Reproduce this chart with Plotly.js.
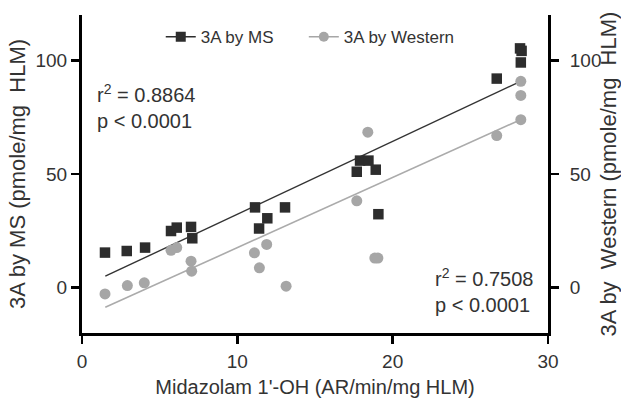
<!DOCTYPE html>
<html>
<head>
<meta charset="utf-8">
<script src="https://cdn.plot.ly/plotly-3.0.1.min.js"></script>
<style>html,body{margin:0;padding:0;background:#fff;}#chart{width:621px;height:398px;}</style>
</head>
<body>
<div id="chart"></div>
<script>
// Midazolam 1'-OH activity (AR/min/mg HLM)
var msX = [1.48, 2.88, 4.06, 5.73, 6.1, 7.02, 7.1, 11.14, 11.4, 11.93, 13.07, 17.69, 17.9, 18.44, 18.91, 19.08, 26.7, 28.2, 28.3, 28.25];
// CYP3A by MS (pmole/mg HLM)
var msY = [15.4, 16.1, 17.6, 24.9, 26.4, 26.7, 21.7, 35.3, 26.0, 30.5, 35.3, 51.0, 55.9, 55.9, 51.9, 32.3, 92.0, 105.3, 104.2, 99.1];

var wbX = [1.48, 2.92, 4.01, 5.73, 6.1, 7.02, 7.06, 11.1, 11.42, 11.89, 13.14, 17.69, 18.4, 18.85, 19.05, 26.7, 28.25, 28.25, 28.25];
// CYP3A by Western (pmole/mg HLM)
var wbY = [-2.8, 0.9, 2.1, 16.4, 17.6, 11.6, 7.2, 15.3, 8.7, 19.0, 0.6, 38.2, 68.4, 13.0, 13.0, 66.9, 90.8, 84.6, 73.9];

// Linear regression lines (end points)
var fitX = [1.5, 28.2];
var msFitY = [5.0, 90.7];
var wbFitY = [-8.7, 73.8];

var seriesNames = ['3A by MS', '3A by Western'];
var statsMS = ['r<sup>2</sup> = 0.8864', 'p &lt; 0.0001'];
var statsWB = ['r<sup>2</sup> = 0.7508', 'p &lt; 0.0001'];

var xTicks = [0, 10, 20, 30];
var yTicks = [0, 50, 100];

var cMS = '#2d2d2d';
var cWB = '#a6a6a6';

var traces = [
  {x: fitX, y: msFitY, mode: 'lines', line: {color: '#333333', width: 1.4}, showlegend: false, hoverinfo: 'skip'},
  {x: fitX, y: wbFitY, mode: 'lines', line: {color: '#ababab', width: 1.6}, showlegend: false, hoverinfo: 'skip', yaxis: 'y2'},
  {x: wbX, y: wbY, mode: 'markers', marker: {symbol: 'circle', size: 11, color: cWB}, showlegend: false, yaxis: 'y2', name: seriesNames[1]},
  {x: msX, y: msY, mode: 'markers', marker: {symbol: 'square', size: 10.5, color: cMS}, showlegend: false, name: seriesNames[0]},
  {x: [null], y: [null], mode: 'lines+markers', name: seriesNames[0], legend: 'legend',
   marker: {symbol: 'square', size: 10, color: cMS}, line: {color: cMS, width: 1.5}},
  {x: [null], y: [null], mode: 'lines+markers', name: seriesNames[1], legend: 'legend2',
   marker: {symbol: 'circle', size: 10, color: cWB}, line: {color: cWB, width: 1.5}}
];

var axisCommon = {
  showline: true, linewidth: 3, linecolor: '#000',
  ticks: 'outside', ticklen: 8, tickwidth: 2.5, tickcolor: '#000',
  showgrid: false, zeroline: false, fixedrange: true,
  tickfont: {size: 19, color: '#333'}
};

var legendCommon = {orientation: 'h', y: 0.93, xanchor: 'left', yanchor: 'middle',
                    font: {size: 17, color: '#333'}, bgcolor: 'rgba(0,0,0,0)'};

var layout = {
  width: 621, height: 398,
  margin: {l: 82, r: 73, t: 15, b: 65, pad: 0},
  paper_bgcolor: '#fff', plot_bgcolor: '#fff',
  font: {family: 'Liberation Sans, Arial, sans-serif', color: '#333'},
  showlegend: true,
  legend: Object.assign({}, legendCommon, {x: 0.169}),
  legend2: Object.assign({}, legendCommon, {x: 0.476}),
  xaxis: Object.assign({}, axisCommon, {
    range: [0, 30], tickvals: xTicks, ticklabelstandoff: 1,
    title: {text: "Midazolam 1'-OH (AR/min/mg HLM)", font: {size: 20, color: '#333'}, standoff: 11}
  }),
  yaxis: Object.assign({}, axisCommon, {
    range: [-20, 120], tickvals: yTicks,
    title: {text: '3A by MS (pmole/mg\u00a0\u00a0HLM)', font: {size: 22, color: '#333'}, standoff: 4}
  }),
  yaxis2: Object.assign({}, axisCommon, {
    range: [-20, 120], tickvals: yTicks, overlaying: 'y', side: 'right', ticklabelstandoff: 7,
    title: {text: '3A by\u00a0\u00a0Western (pmole/mg\u00a0\u00a0HLM)', font: {size: 22, color: '#333'}, standoff: 0}
  }),
  annotations: [
    {xref: 'x', yref: 'y', x: 0.84, y: 79.9, xanchor: 'left', yanchor: 'middle', align: 'left', showarrow: false,
     text: statsMS.join('<br>'), font: {size: 20, color: '#333'}},
    {xref: 'x', yref: 'y', x: 22.6, y: -1.1, xanchor: 'left', yanchor: 'middle', align: 'left', showarrow: false,
     text: statsWB.join('<br>'), font: {size: 20, color: '#333'}}
  ]
};

Plotly.newPlot('chart', traces, layout, {displayModeBar: false, staticPlot: true});
</script>
</body>
</html>
